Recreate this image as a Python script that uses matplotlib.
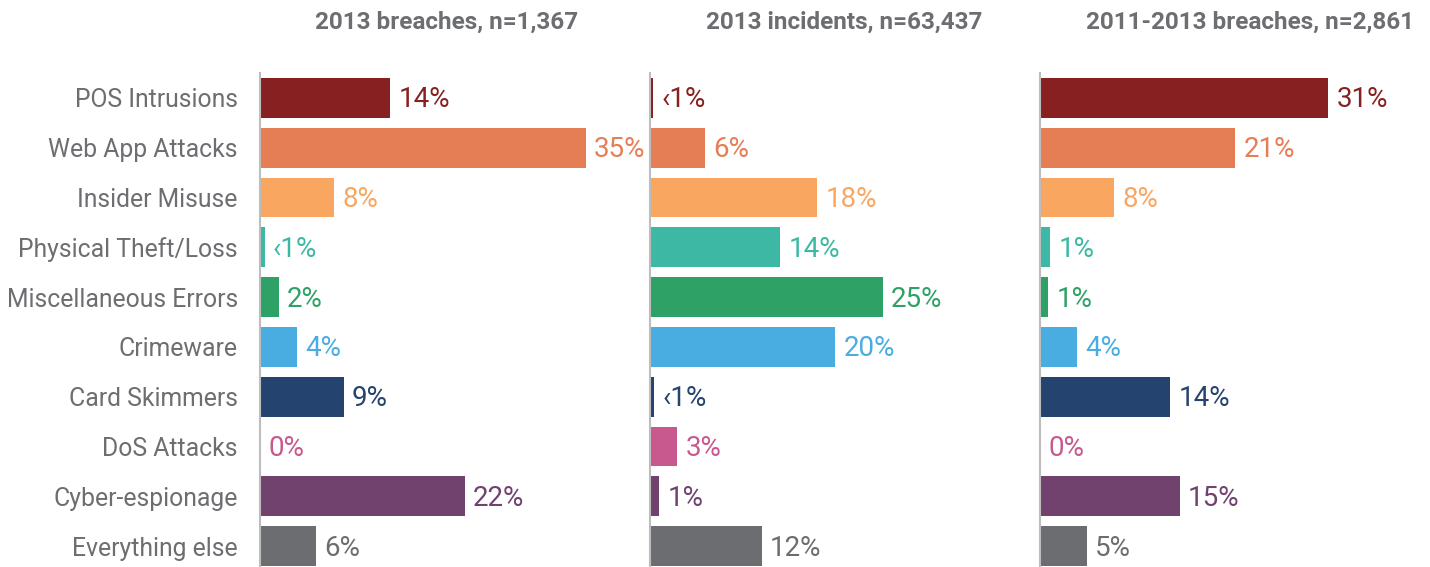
import numpy as np
import matplotlib.pyplot as plt

plt.rcParams['font.family'] = ['Roboto', 'DejaVu Sans']

categories = ['POS Intrusions', 'Web App Attacks', 'Insider Misuse', 'Physical Theft/Loss',
              'Miscellaneous Errors', 'Crimeware', 'Card Skimmers', 'DoS Attacks',
              'Cyber-espionage', 'Everything else']
colors = ['#872020', '#E57E55', '#F9A661', '#3CB8A4', '#2EA266',
          '#4AADE2', '#24436E', '#C8598F', '#70426D', '#6C6D70']

titles = ['2013 breaches, n=1,367', '2013 incidents, n=63,437', '2011-2013 breaches, n=2,861']

breaches_2013 = [14, 35, 8, 0.5, 2, 4, 9, 0, 22, 6]
breaches_2013_lbl = ['14%', '35%', '8%', '\u20391%', '2%', '4%', '9%', '0%', '22%', '6%']

incidents_2013 = [0.3, 5.9, 18, 14, 25, 19.9, 0.4, 2.9, 1, 12]
incidents_2013_lbl = ['\u20391%', '6%', '18%', '14%', '25%', '20%', '\u20391%', '3%', '1%', '12%']

breaches_1113 = [31, 21, 8, 1.1, 0.9, 4, 14, 0, 15, 5]
breaches_1113_lbl = ['31%', '21%', '8%', '1%', '1%', '4%', '14%', '0%', '15%', '5%']

series = [(breaches_2013, breaches_2013_lbl),
          (incidents_2013, incidents_2013_lbl),
          (breaches_1113, breaches_1113_lbl)]

W, H = 1430, 567
fig = plt.figure(figsize=(W / 100, H / 100), dpi=100)
gray = '#6D6E71'

lefts = [260, 650, 1040]
title_x = [447, 844, 1250]
ypos = np.arange(len(categories))

for i, (vals, lbls) in enumerate(series):
    ax = fig.add_axes([lefts[i] / W, 0, 372 / W, 494 / H])
    ax.barh(ypos, vals, height=0.8, color=colors)
    ax.set_xlim(0, 40)
    ax.set_ylim(9.42, -0.5)
    for y, v, t, c in zip(ypos, vals, lbls, colors):
        ax.annotate(t, (v, y + 0.04), xytext=(6, 0), textcoords='offset points',
                    va='center', ha='left', fontsize=20, color=c)
    for s in ['top', 'right', 'bottom']:
        ax.spines[s].set_visible(False)
    ax.spines['left'].set_color('#BDBDBD')
    ax.spines['left'].set_linewidth(1.5)
    ax.set_xticks([])
    if i == 0:
        ax.set_yticks(ypos)
        ax.set_yticklabels(categories, fontsize=17.8, color=gray)
        ax.tick_params(axis='y', length=0, pad=16)
    else:
        ax.set_yticks([])
    fig.text(title_x[i] / W, 1 - 22 / H, titles[i], ha='center', va='center',
             fontsize=17.5, fontweight='bold', color=gray)

fig.savefig('out.png', dpi=100)
